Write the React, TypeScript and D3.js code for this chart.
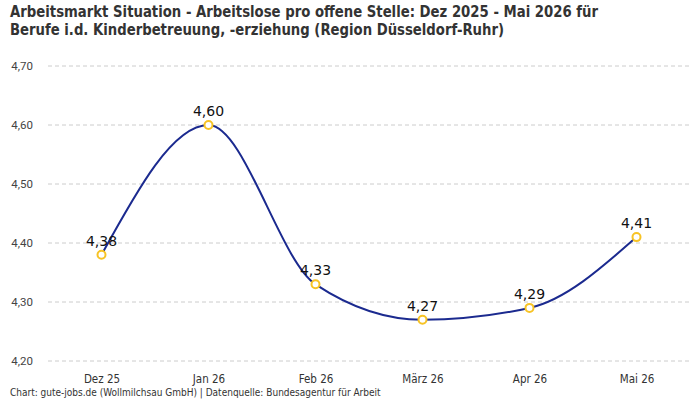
import { useRef, useEffect } from 'react'
import * as d3 from 'd3'

const WIDTH = 700
const HEIGHT = 400
const MARGIN = { top: 66, right: 10, bottom: 39, left: 48 }

const months = ['Dez 25', 'Jan 26', 'Feb 26', 'März 26', 'Apr 26', 'Mai 26']
const values = [4.38, 4.6, 4.33, 4.27, 4.29, 4.41]
const yTicks = [4.2, 4.3, 4.4, 4.5, 4.6, 4.7]

const titleLines = [
  'Arbeitsmarkt Situation - Arbeitslose pro offene Stelle: Dez 2025 - Mai 2026 für',
  'Berufe i.d. Kinderbetreuung, -erziehung (Region Düsseldorf-Ruhr)',
]
const titleWidths = [588, 494]
const footer = 'Chart: gute-jobs.de (Wollmilchsau GmbH) | Datenquelle: Bundesagentur für Arbeit'

const LINE_COLOR = '#1b2a8f'
const POINT_COLOR = '#f7c325'
const CONDENSED = '"DejaVu Sans Condensed", sans-serif'
const SANS = 'Roboto, "Noto Sans", sans-serif'
const LABEL_FONT = '"DejaVu Sans", sans-serif'

const fmt = (v: number) => v.toFixed(2).replace('.', ',')

export default function App() {
  const svgRef = useRef<SVGSVGElement>(null)

  useEffect(() => {
    if (!svgRef.current) return
    const svg = d3.select(svgRef.current)
    svg.selectAll('*').remove()

    const innerWidth = WIDTH - MARGIN.left - MARGIN.right
    const innerHeight = HEIGHT - MARGIN.top - MARGIN.bottom

    svg.append('rect').attr('width', WIDTH).attr('height', HEIGHT).attr('fill', '#fff')

    // Title (condensed look via textLength)
    svg
      .append('g')
      .selectAll('text')
      .data(titleLines)
      .join('text')
      .attr('x', 10)
      .attr('y', (_, i) => 17 + i * 18)
      .attr('fill', '#333')
      .attr('textLength', (_, i) => titleWidths[i])
      .attr('lengthAdjust', 'spacingAndGlyphs')
      .style('font-family', CONDENSED)
      .style('font-size', '16.5px')
      .style('font-weight', 'bold')
      .text((d) => d)

    const g = svg.append('g').attr('transform', `translate(${MARGIN.left},${MARGIN.top})`)

    const x = d3.scalePoint().domain(months).range([0, innerWidth]).padding(0.5)
    const y = d3.scaleLinear().domain([4.2, 4.7]).range([innerHeight, 0])

    // Y axis
    g.append('g')
      .call(d3.axisLeft(y).tickValues(yTicks).tickSize(0).tickPadding(15).tickFormat((v) => fmt(v as number)))
      .call((axis) => {
        axis.select('.domain').remove()
        axis.selectAll('text').attr('fill', '#444').style('font-family', SANS).style('font-size', '11.5px')
      })

    // Grid
    g.append('g')
      .selectAll('line')
      .data(yTicks)
      .join('line')
      .attr('x1', 0)
      .attr('x2', innerWidth)
      .attr('y1', (d) => y(d))
      .attr('y2', (d) => y(d))
      .attr('stroke', '#ccc')
      .attr('stroke-dasharray', '4,3')

    // X axis
    g.append('g')
      .attr('transform', `translate(0,${innerHeight})`)
      .call(d3.axisBottom(x).tickSize(0).tickPadding(14))
      .call((axis) => {
        axis.select('.domain').remove()
        axis.selectAll('text').attr('fill', '#333').style('font-family', CONDENSED).style('font-size', '11.5px')
      })

    // Line
    const line = d3
      .line<number>()
      .x((_, i) => x(months[i]) ?? 0)
      .y((d) => y(d))
      .curve(d3.curveMonotoneX)

    g.append('path')
      .datum(values)
      .attr('d', line)
      .attr('fill', 'none')
      .attr('stroke', LINE_COLOR)
      .attr('stroke-width', 2)

    // Points
    g.selectAll('circle')
      .data(values)
      .join('circle')
      .attr('cx', (_, i) => x(months[i]) ?? 0)
      .attr('cy', (d) => y(d))
      .attr('r', 4)
      .attr('fill', '#fff')
      .attr('stroke', POINT_COLOR)
      .attr('stroke-width', 2)

    // Value labels
    g.selectAll('text.val')
      .data(values)
      .join('text')
      .attr('class', 'val')
      .attr('x', (_, i) => x(months[i]) ?? 0)
      .attr('y', (d) => y(d) - 9)
      .attr('text-anchor', 'middle')
      .attr('fill', '#111')
      .style('font-family', LABEL_FONT)
      .style('font-size', '14px')
      .text((d) => fmt(d))

    // Footer
    svg
      .append('text')
      .attr('x', 10)
      .attr('y', 396)
      .attr('fill', '#333')
      .style('font-family', CONDENSED)
      .style('font-size', '10px')
      .text(footer)
  }, [])

  return (
    <div style={{ position: 'fixed', left: 0, top: 0 }}>
      <svg ref={svgRef} width={WIDTH} height={HEIGHT} style={{ display: 'block' }} />
    </div>
  )
}
